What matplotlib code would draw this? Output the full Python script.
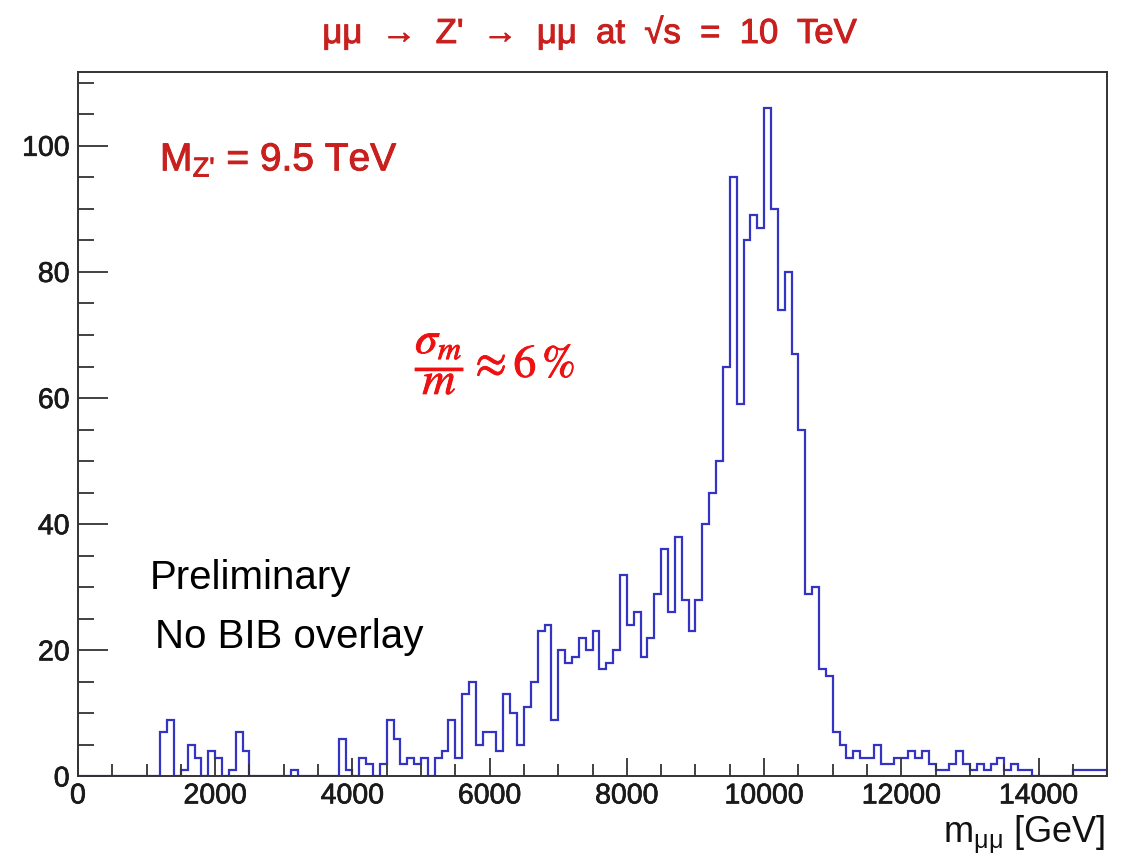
import numpy as np
import matplotlib
matplotlib.use("Agg")
import matplotlib.pyplot as plt
import matplotlib.patheffects as pe
from matplotlib.ticker import MultipleLocator

plt.rcParams['font.family'] = ['Liberation Sans', 'DejaVu Sans']
plt.rcParams['mathtext.fontset'] = 'custom'
plt.rcParams['mathtext.rm'] = 'Liberation Sans'
plt.rcParams['mathtext.it'] = 'Liberation Sans:italic'

# ─── histogram: 150 bins of 100 GeV, 0 - 15000 GeV ───
bin_width = 100
counts = [
    0, 0, 0, 0, 0, 0, 0, 0, 0, 0,            # 0 - 900
    0, 0, 7, 9, 0, 1, 5, 3, 0, 4,            # 1000 - 1900
    3, 0, 1, 7, 4, 0, 0, 0, 0, 0,            # 2000 - 2900
    0, 1, 0, 0, 0, 0, 0, 0, 6, 1,            # 3000 - 3900
    0, 3, 2, 0, 2, 9, 6, 2, 3, 2,            # 4000 - 4900
    3, 0, 3, 4, 9, 3, 13, 15, 5, 7,          # 5000 - 5900
    7, 4, 13, 10, 5, 11, 15, 23, 24, 9,      # 6000 - 6900
    20, 18, 19, 22, 20, 23, 17, 18, 20, 32,  # 7000 - 7900
    24, 26, 19, 22, 29, 36, 26, 38, 28, 23,  # 8000 - 8900
    28, 40, 45, 50, 65, 95, 59, 85, 89, 87,  # 9000 - 9900
    106, 90, 74, 80, 67, 55, 29, 30, 17, 16, # 10000 - 10900
    7, 5, 3, 4, 3, 3, 5, 2, 2, 3,            # 11000 - 11900
    3, 4, 3, 4, 2, 1, 1, 2, 4, 2,            # 12000 - 12900
    1, 2, 1, 2, 3, 1, 2, 1, 1, 0,            # 13000 - 13900
    0, 0, 0, 0, 0, 1, 1, 1, 1, 1,            # 14000 - 14900
]
edges = np.arange(len(counts) + 1) * bin_width

TITLE_RED = '#c8201e'
SIGMA_RED = '#ee1111'
HIST_BLUE = '#3434c4'
FRAME = '#333333'
TEXT_DARK = '#1a1a1a'


def heavy(color, lw=0.7):
    """Slight stroke so Liberation Sans looks as heavy as the original Helvetica."""
    return [pe.withStroke(linewidth=lw, foreground=color)]


fig = plt.figure(figsize=(11.38, 8.56), dpi=100)
ax = fig.add_axes([0.0685, 0.0929, 0.9044, 0.823])

ax.stairs(counts, edges, color=HIST_BLUE, linewidth=1.6)

ax.set_xlim(0, 15000)
ax.set_ylim(0, 111.7)

ax.xaxis.set_major_locator(MultipleLocator(2000))
ax.xaxis.set_minor_locator(MultipleLocator(500))
ax.yaxis.set_major_locator(MultipleLocator(20))
ax.yaxis.set_minor_locator(MultipleLocator(5))

ax.tick_params(axis='x', which='major', direction='in', length=13, width=1.3,
               color=FRAME, labelsize=20.5, labelcolor=TEXT_DARK, pad=5)
ax.tick_params(axis='x', which='minor', direction='in', length=8.5, width=1.3,
               color=FRAME)
ax.tick_params(axis='y', which='major', direction='in', length=21.5, width=1.3,
               color=FRAME, labelsize=20.5, labelcolor=TEXT_DARK, pad=6)
ax.tick_params(axis='y', which='minor', direction='in', length=11.5, width=1.3,
               color=FRAME)
ax.tick_params(top=False, right=False, which='both')
for lab in ax.get_xticklabels() + ax.get_yticklabels():
    lab.set_path_effects(heavy(TEXT_DARK, 0.5))

for sp in ax.spines.values():
    sp.set_linewidth(1.4)
    sp.set_color(FRAME)

# ─── texts ───
fig.text(0.518, 0.9614, "μμ  →  Z'  →  μμ  at  √s  =  10  TeV", fontsize=25,
         color=TITLE_RED, ha='center', va='center', path_effects=heavy(TITLE_RED))

ax.text(0.0797, 0.875, r"M$_{\mathrm{Z}\text{'}}$ = 9.5 TeV", transform=ax.transAxes,
        fontsize=28, color=TITLE_RED, ha='left', va='center',
        path_effects=heavy(TITLE_RED))

ax.text(0.3275, 0.584, r"$\dfrac{\sigma_m}{m} \approx 6\,\%$", transform=ax.transAxes,
        fontsize=33, color=SIGMA_RED, ha='left', va='center', math_fontfamily='stix',
        path_effects=heavy(SIGMA_RED, 0.6))

ax.text(0.070, 0.282, "Preliminary", transform=ax.transAxes,
        fontsize=29, color='black', ha='left', va='center')
ax.text(0.0748, 0.198, "No BIB overlay", transform=ax.transAxes,
        fontsize=29, color='black', ha='left', va='center')

fig.text(0.971, 0.015, r"m$_{\mathrm{μμ}}$ [GeV]", fontsize=26,
         color='#111111', ha='right', va='baseline')

fig.savefig('out.png', dpi=100)
